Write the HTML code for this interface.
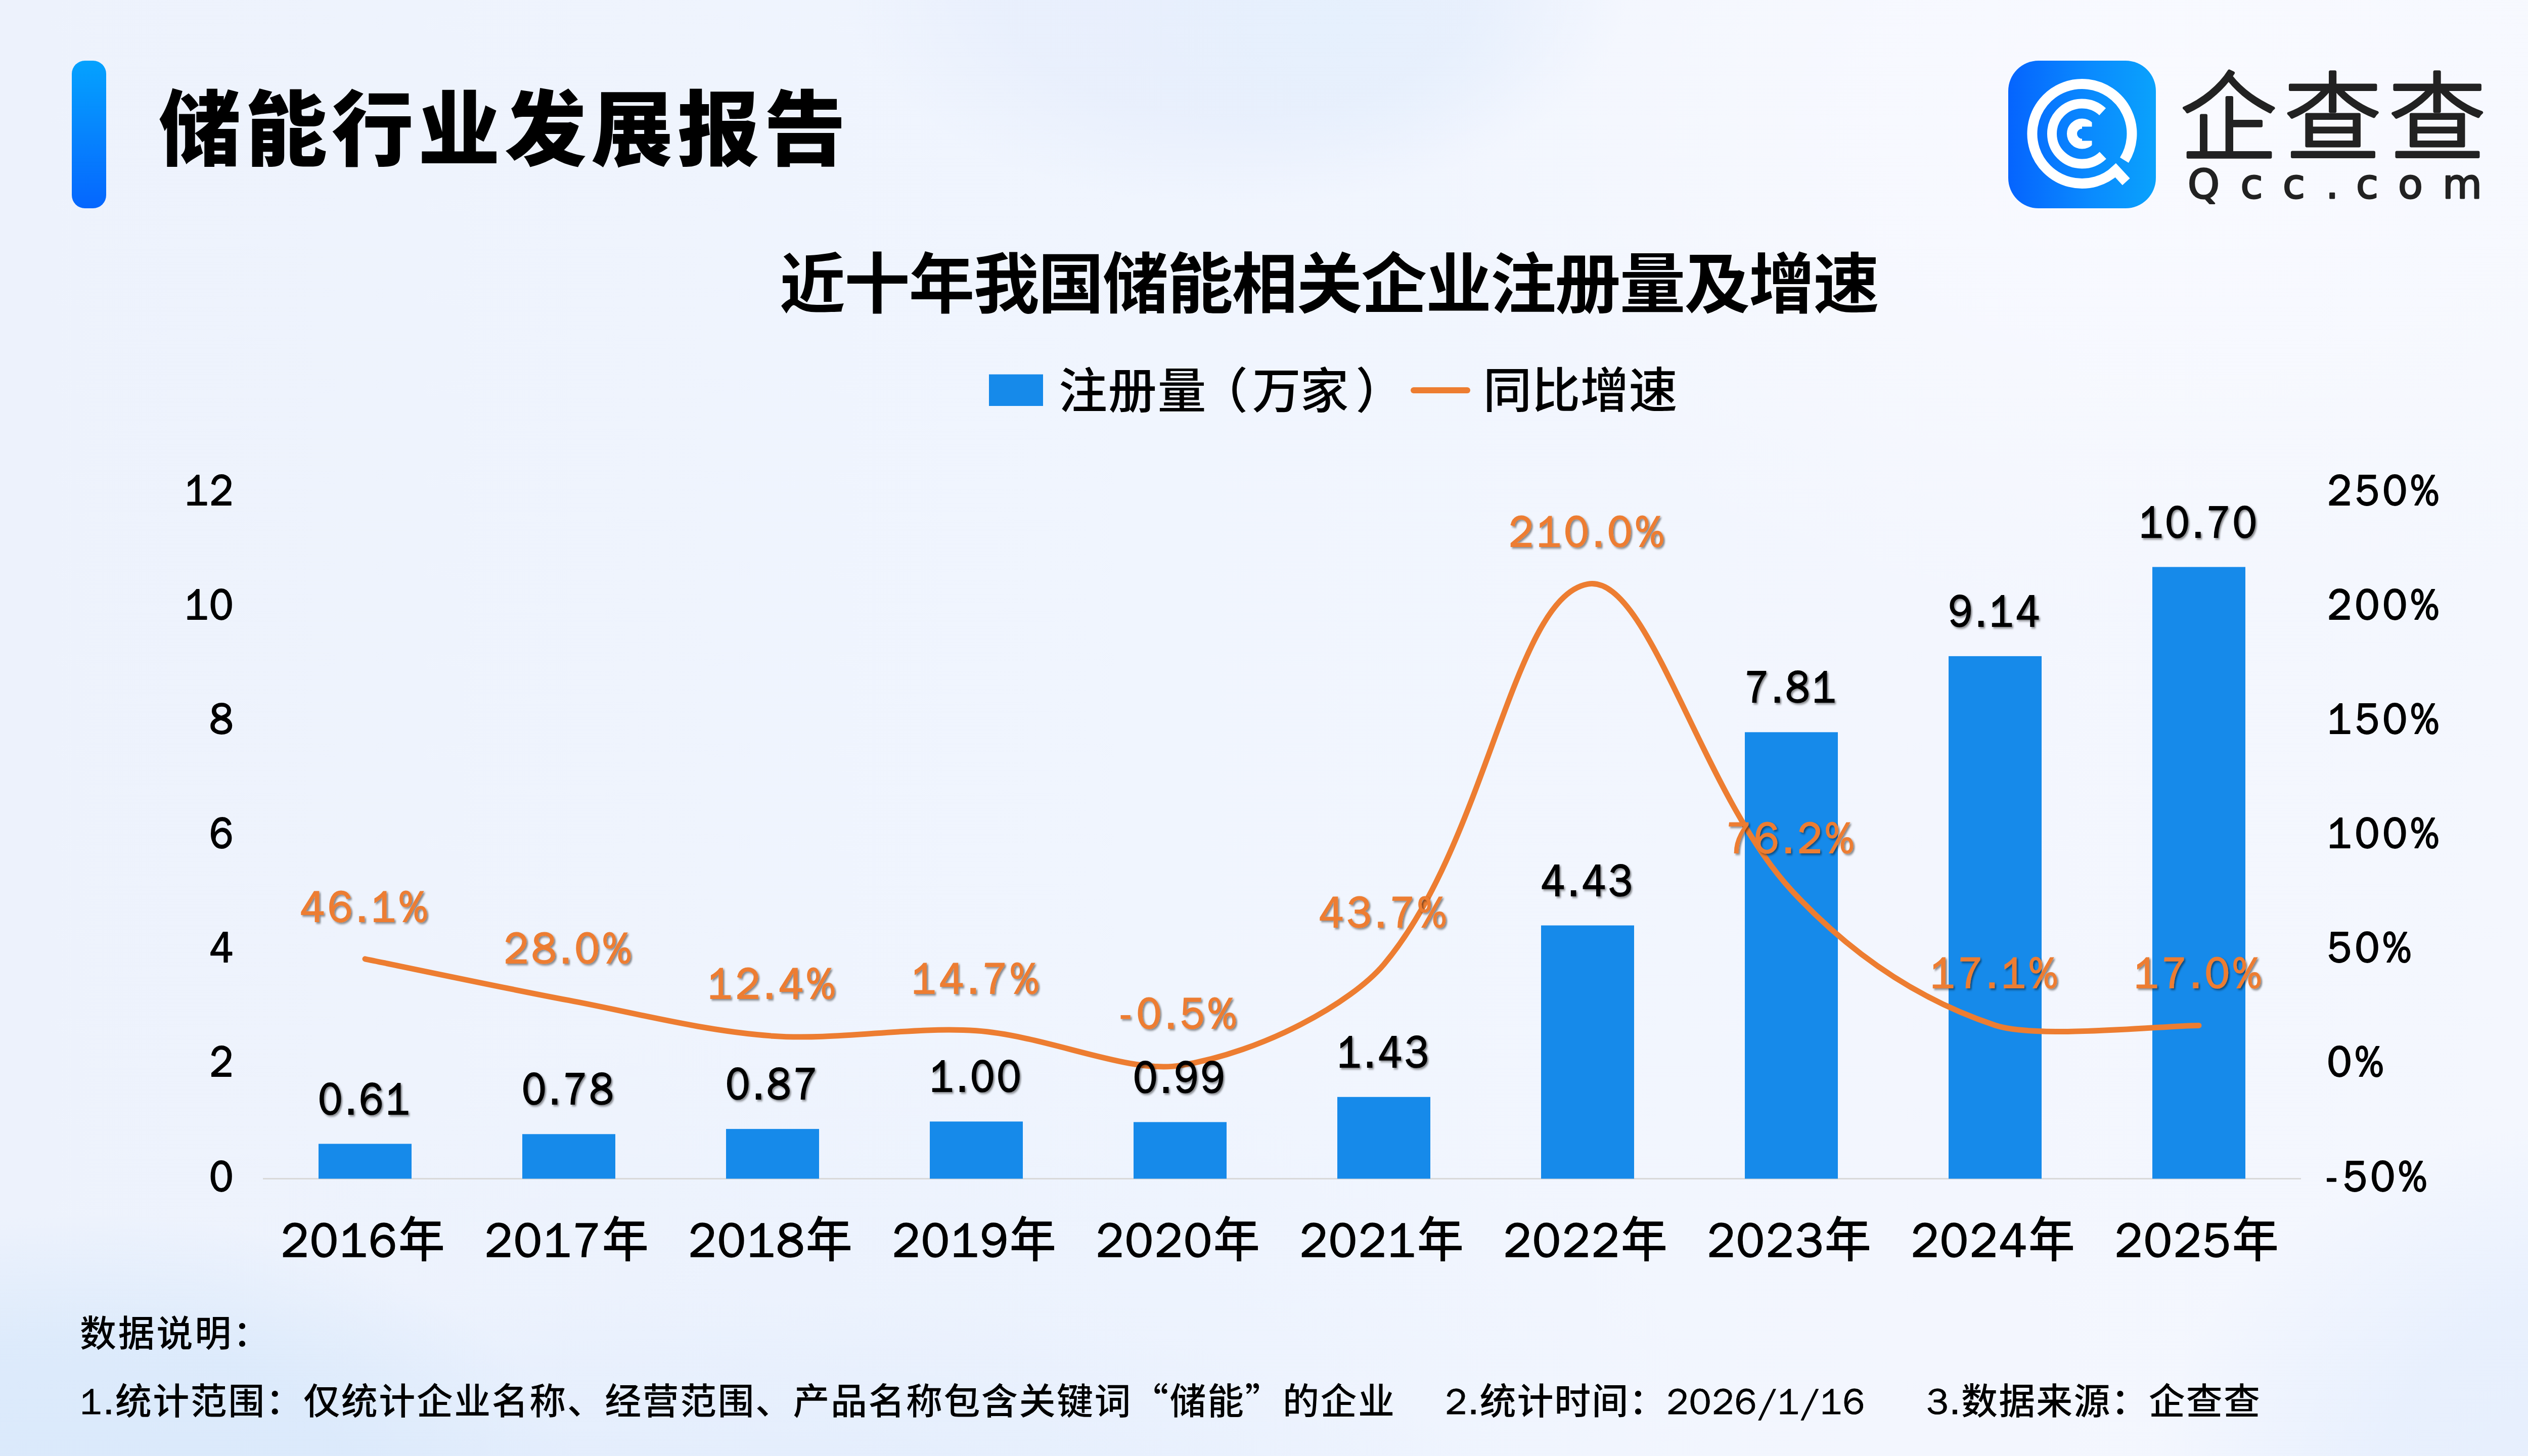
<!DOCTYPE html>
<html><head><meta charset="utf-8">
<style>
*{margin:0;padding:0;box-sizing:border-box}
html,body{width:5120px;height:2880px;overflow:hidden}
body{position:relative;font-family:"Liberation Sans","Noto Sans CJK SC",sans-serif;background:#eff3fc;}
.bg{position:absolute;left:0;top:0;width:5120px;height:2880px;
background:
 radial-gradient(ellipse 450px 280px at 2640px 50px, rgba(228,240,253,0.7), rgba(228,240,253,0) 100%),
 radial-gradient(ellipse 780px 440px at 2440px -30px, rgba(231,238,252,0.9) 0%, rgba(231,238,252,0.8) 60%, rgba(231,238,252,0) 100%),
 radial-gradient(ellipse 1500px 1000px at 4300px 250px, rgba(249,250,255,1), rgba(249,250,255,0) 100%),
 radial-gradient(ellipse 1000px 750px at 5250px 2950px, rgba(229,238,253,1) 0%, rgba(229,238,253,0.8) 55%, rgba(229,238,253,0) 100%),
 radial-gradient(ellipse 1000px 560px at 150px 2960px, rgba(218,233,251,1) 0%, rgba(218,233,251,0.85) 55%, rgba(218,233,251,0) 100%),
 radial-gradient(ellipse 1900px 420px at 1100px 2980px, rgba(223,235,252,0.8), rgba(223,235,252,0) 100%),
 radial-gradient(ellipse 1600px 900px at 1800px 2900px, rgba(228,237,252,0.5), rgba(228,237,252,0) 100%),
 linear-gradient(90deg,#edf2fc 0%,#f0f5fe 45%,#f3f6fe 75%,#f4f7fe 100%);}
.bar{position:absolute;left:142px;top:120px;width:68px;height:292px;border-radius:26px;
background:linear-gradient(180deg,#04a2fe 0%,#0687fd 45%,#0566fe 100%);}
svg{position:absolute;left:0;top:0}
svg text{font-family:"Noto Sans CJK SC",sans-serif;white-space:pre}
.ax,.vl,.pl,.d{font-family:"WenQuanYi Zen Hei","Liberation Sans",sans-serif;font-weight:400}
.ax{fill:#000;stroke:#000;stroke-width:2.2px;stroke-linejoin:round}
.yr{fill:#000;font-weight:500}
.vl{fill:#000;stroke:#000;stroke-width:2px;filter:url(#sh)}
.pl{fill:#ed7d31;stroke:#ed7d31;stroke-width:2px;filter:url(#sh)}
.lg{font-family:"Noto Sans CJK SC",sans-serif !important;font-size:96px;fill:#000;font-weight:500}
.nt{font-size:72px;fill:#000;font-weight:500}
.yr .d{stroke:#000;stroke-width:1.6px}
.nt .d{stroke:#000;stroke-width:0.8px}
.cj{font-family:"Noto Sans CJK SC",sans-serif}
.tt{font-family:"Noto Sans CJK SC",sans-serif !important;font-weight:900;fill:#000}
.ct{font-family:"Noto Sans CJK SC",sans-serif !important;font-weight:700;fill:#000}
.lq{font-family:"Noto Sans CJK SC",sans-serif !important;fill:#222;font-weight:300;stroke:#222;stroke-width:6px;stroke-linejoin:round;stroke-linecap:round}
.lc{font-family:"DejaVu Sans",sans-serif !important;fill:#222;stroke:#222;stroke-linejoin:round;font-weight:400}
</style></head><body>
<div class="bg"></div>
<div class="bar"></div>
<svg width="5120" height="2880" viewBox="0 0 5120 2880">
<defs><filter id="sh" x="-10%" y="-20%" width="130%" height="150%"><feDropShadow dx="3" dy="3" stdDeviation="2" flood-color="#000" flood-opacity="0.45"/></filter></defs>
<line x1="520" y1="2331.5" x2="4551" y2="2331.5" stroke="#d9d9d9" stroke-width="3"/>
<rect x="630.0" y="2262.5" width="184" height="69.0" fill="#168aea"/>
<rect x="1033.0" y="2243.3" width="184" height="88.2" fill="#168aea"/>
<rect x="1436.0" y="2233.1" width="184" height="98.4" fill="#168aea"/>
<rect x="1839.0" y="2218.4" width="184" height="113.1" fill="#168aea"/>
<rect x="2242.0" y="2219.5" width="184" height="112.0" fill="#168aea"/>
<rect x="2645.0" y="2169.8" width="184" height="161.7" fill="#168aea"/>
<rect x="3048.0" y="1830.5" width="184" height="501.0" fill="#168aea"/>
<rect x="3451.0" y="1448.3" width="184" height="883.2" fill="#168aea"/>
<rect x="3854.0" y="1297.9" width="184" height="1033.6" fill="#168aea"/>
<rect x="4257.0" y="1121.5" width="184" height="1210.0" fill="#168aea"/>
<path d="M722.0,1896.8 C789.2,1910.5 988.3,1952.8 1125.0,1978.7 C1256.9,2003.6 1385.8,2038.6 1528.0,2049.2 C1654.5,2058.7 1804.1,2029.7 1931.0,2038.8 C2072.8,2049.1 2230.2,2124.5 2334.0,2107.6 C2498.9,2080.8 2672.5,1983.9 2737.0,1907.7 C2941.1,1666.5 2991.7,1182.5 3140.0,1155.4 C3260.4,1133.5 3361.9,1564.6 3543.0,1760.7 C3630.5,1855.4 3761.0,1966.5 3946.0,2028.0 C4029.7,2055.8 4281.8,2028.4 4349.0,2028.4" fill="none" stroke="#ed7d31" stroke-width="11" stroke-linecap="round" stroke-linejoin="round"/>
<text transform="translate(463.7,2355.5) scale(0.900,1)" class="ax" text-anchor="end" style="font-size:86.0px;letter-spacing:3.00px">0</text>
<text transform="translate(463.7,2129.3) scale(0.900,1)" class="ax" text-anchor="end" style="font-size:86.0px;letter-spacing:3.00px">2</text>
<text transform="translate(463.7,1903.2) scale(0.900,1)" class="ax" text-anchor="end" style="font-size:86.0px;letter-spacing:3.00px">4</text>
<text transform="translate(463.7,1677.0) scale(0.900,1)" class="ax" text-anchor="end" style="font-size:86.0px;letter-spacing:3.00px">6</text>
<text transform="translate(463.7,1450.8) scale(0.900,1)" class="ax" text-anchor="end" style="font-size:86.0px;letter-spacing:3.00px">8</text>
<text transform="translate(463.7,1224.7) scale(0.900,1)" class="ax" text-anchor="end" style="font-size:86.0px;letter-spacing:3.00px">10</text>
<text transform="translate(463.7,998.5) scale(0.900,1)" class="ax" text-anchor="end" style="font-size:86.0px;letter-spacing:3.00px">12</text>
<text transform="translate(4603.0,2355.5) scale(0.930,1)" class="ax" text-anchor="start" style="font-size:86.0px;letter-spacing:7.50px">-50%</text>
<text transform="translate(4603.0,2129.3) scale(0.930,1)" class="ax" text-anchor="start" style="font-size:86.0px;letter-spacing:7.50px">0%</text>
<text transform="translate(4603.0,1903.2) scale(0.930,1)" class="ax" text-anchor="start" style="font-size:86.0px;letter-spacing:7.50px">50%</text>
<text transform="translate(4603.0,1677.0) scale(0.930,1)" class="ax" text-anchor="start" style="font-size:86.0px;letter-spacing:7.50px">100%</text>
<text transform="translate(4603.0,1450.8) scale(0.930,1)" class="ax" text-anchor="start" style="font-size:86.0px;letter-spacing:7.50px">150%</text>
<text transform="translate(4603.0,1224.7) scale(0.930,1)" class="ax" text-anchor="start" style="font-size:86.0px;letter-spacing:7.50px">200%</text>
<text transform="translate(4603.0,998.5) scale(0.930,1)" class="ax" text-anchor="start" style="font-size:86.0px;letter-spacing:7.50px">250%</text>
<text transform="translate(719.0,2486.0) scale(0.960,1)" class="yr" text-anchor="middle" style="font-size:96.0px;letter-spacing:3.00px"><tspan class="d">2016</tspan>年</text>
<text transform="translate(1122.0,2486.0) scale(0.960,1)" class="yr" text-anchor="middle" style="font-size:96.0px;letter-spacing:3.00px"><tspan class="d">2017</tspan>年</text>
<text transform="translate(1525.0,2486.0) scale(0.960,1)" class="yr" text-anchor="middle" style="font-size:96.0px;letter-spacing:3.00px"><tspan class="d">2018</tspan>年</text>
<text transform="translate(1928.0,2486.0) scale(0.960,1)" class="yr" text-anchor="middle" style="font-size:96.0px;letter-spacing:3.00px"><tspan class="d">2019</tspan>年</text>
<text transform="translate(2331.0,2486.0) scale(0.960,1)" class="yr" text-anchor="middle" style="font-size:96.0px;letter-spacing:3.00px"><tspan class="d">2020</tspan>年</text>
<text transform="translate(2734.0,2486.0) scale(0.960,1)" class="yr" text-anchor="middle" style="font-size:96.0px;letter-spacing:3.00px"><tspan class="d">2021</tspan>年</text>
<text transform="translate(3137.0,2486.0) scale(0.960,1)" class="yr" text-anchor="middle" style="font-size:96.0px;letter-spacing:3.00px"><tspan class="d">2022</tspan>年</text>
<text transform="translate(3540.0,2486.0) scale(0.960,1)" class="yr" text-anchor="middle" style="font-size:96.0px;letter-spacing:3.00px"><tspan class="d">2023</tspan>年</text>
<text transform="translate(3943.0,2486.0) scale(0.960,1)" class="yr" text-anchor="middle" style="font-size:96.0px;letter-spacing:3.00px"><tspan class="d">2024</tspan>年</text>
<text transform="translate(4346.0,2486.0) scale(0.960,1)" class="yr" text-anchor="middle" style="font-size:96.0px;letter-spacing:3.00px"><tspan class="d">2025</tspan>年</text>
<text transform="translate(722.6,2203.5) scale(0.880,1)" class="vl" text-anchor="middle" style="font-size:89.0px;letter-spacing:6.00px">0.61</text>
<text transform="translate(1125.6,2184.3) scale(0.880,1)" class="vl" text-anchor="middle" style="font-size:89.0px;letter-spacing:6.00px">0.78</text>
<text transform="translate(1528.6,2174.1) scale(0.880,1)" class="vl" text-anchor="middle" style="font-size:89.0px;letter-spacing:6.00px">0.87</text>
<text transform="translate(1931.6,2159.4) scale(0.880,1)" class="vl" text-anchor="middle" style="font-size:89.0px;letter-spacing:6.00px">1.00</text>
<text transform="translate(2334.6,2160.5) scale(0.880,1)" class="vl" text-anchor="middle" style="font-size:89.0px;letter-spacing:6.00px">0.99</text>
<text transform="translate(2737.6,2110.8) scale(0.880,1)" class="vl" text-anchor="middle" style="font-size:89.0px;letter-spacing:6.00px">1.43</text>
<text transform="translate(3140.6,1771.5) scale(0.880,1)" class="vl" text-anchor="middle" style="font-size:89.0px;letter-spacing:6.00px">4.43</text>
<text transform="translate(3543.6,1389.3) scale(0.880,1)" class="vl" text-anchor="middle" style="font-size:89.0px;letter-spacing:6.00px">7.81</text>
<text transform="translate(3946.6,1238.9) scale(0.880,1)" class="vl" text-anchor="middle" style="font-size:89.0px;letter-spacing:6.00px">9.14</text>
<text transform="translate(4349.6,1062.5) scale(0.880,1)" class="vl" text-anchor="middle" style="font-size:89.0px;letter-spacing:6.00px">10.70</text>
<text transform="translate(722.7,1822.8) scale(0.930,1)" class="pl" text-anchor="middle" style="font-size:87.0px;letter-spacing:6.90px">46.1%</text>
<text transform="translate(1125.7,1904.7) scale(0.930,1)" class="pl" text-anchor="middle" style="font-size:87.0px;letter-spacing:6.90px">28.0%</text>
<text transform="translate(1528.7,1975.2) scale(0.930,1)" class="pl" text-anchor="middle" style="font-size:87.0px;letter-spacing:6.90px">12.4%</text>
<text transform="translate(1931.7,1964.8) scale(0.930,1)" class="pl" text-anchor="middle" style="font-size:87.0px;letter-spacing:6.90px">14.7%</text>
<text transform="translate(2334.7,2033.6) scale(0.930,1)" class="pl" text-anchor="middle" style="font-size:87.0px;letter-spacing:6.90px">-0.5%</text>
<text transform="translate(2737.7,1833.7) scale(0.930,1)" class="pl" text-anchor="middle" style="font-size:87.0px;letter-spacing:6.90px">43.7%</text>
<text transform="translate(3140.7,1081.4) scale(0.930,1)" class="pl" text-anchor="middle" style="font-size:87.0px;letter-spacing:6.90px">210.0%</text>
<text transform="translate(3543.7,1686.7) scale(0.930,1)" class="pl" text-anchor="middle" style="font-size:87.0px;letter-spacing:6.90px">76.2%</text>
<text transform="translate(3946.7,1954.0) scale(0.930,1)" class="pl" text-anchor="middle" style="font-size:87.0px;letter-spacing:6.90px">17.1%</text>
<text transform="translate(4349.7,1954.4) scale(0.930,1)" class="pl" text-anchor="middle" style="font-size:87.0px;letter-spacing:6.90px">17.0%</text>
<rect x="1956" y="740.5" width="107" height="62.5" fill="#168aea"/>
<text x="2094.0" y="807.0" class="lg" style="letter-spacing:1.70px">注册量<tspan dx="-15">（</tspan><tspan dx="7">万</tspan><tspan dx="-3">家</tspan><tspan dx="12">）</tspan></text>
<line x1="2796" y1="772" x2="2902" y2="772" stroke="#ed7d31" stroke-width="12" stroke-linecap="round"/>
<text x="2933.5" y="806.0" class="lg" style="letter-spacing:0.00px">同比增速</text>
<text x="158.0" y="2663.0" class="nt" textLength="375.0" lengthAdjust="spacing">数据说明：</text>
<text x="158.0" y="2797.0" class="nt" textLength="2600.0" lengthAdjust="spacing"><tspan class="d">1.</tspan>统计范围：仅统计企业名称、经营范围、产品名称包含关键词<tspan class="cj">“</tspan>储能<tspan class="cj">”</tspan>的企业</text>
<text x="2858.0" y="2797.0" class="nt" textLength="830.0" lengthAdjust="spacing"><tspan class="d">2.</tspan>统计时间：<tspan class="d">2026/1/16</tspan></text>
<text x="3810.0" y="2797.0" class="nt" textLength="660.0" lengthAdjust="spacing"><tspan class="d">3.</tspan>数据来源：企查查</text>
<text x="314.0" y="315.0" class="tt" style="font-size:162.0px;letter-spacing:9.00px">储能行业发展报告</text>
<text x="1542.0" y="608.0" class="ct" style="font-size:130.0px;letter-spacing:-2.20px">近十年我国储能相关企业注册量及增速</text>
<defs><linearGradient id="lg1" x1="0" y1="0" x2="1" y2="0"><stop offset="0" stop-color="#0564fe"/><stop offset="0.55" stop-color="#0a8afe"/><stop offset="1" stop-color="#0aa2fc"/></linearGradient></defs>
<rect x="3972" y="120" width="292" height="292" rx="60" fill="url(#lg1)"/>
<path d="M4185.2,336.5 A98.5,98.5 0 1 1 4201.5,316.7" fill="none" stroke="#fff" stroke-width="20"/>
<line x1="4177.5" y1="329.4" x2="4205.2" y2="359.6" stroke="#fff" stroke-width="20"/>
<path d="M4159.3,307.3 A59.5,59.5 0 1 1 4158.6,221.0" fill="none" stroke="#fff" stroke-width="19"/>
<mask id="mc" maskUnits="userSpaceOnUse" x="3972" y="120" width="292" height="292"><rect x="3972" y="120" width="292" height="292" fill="#fff"/><rect x="4118.0" y="250.5" width="40" height="28" fill="#000"/><rect x="4137.5" y="224.5" width="40" height="80" fill="#000"/></mask>
<circle cx="4118.0" cy="264.5" r="20" fill="none" stroke="#fff" stroke-width="20" mask="url(#mc)"/>
<text x="4312.0" y="301.5" class="lq" style="font-size:191.0px;letter-spacing:15.50px">企查查</text>
<text class="lc" y="392.0" style="font-size:80.0px;stroke-width:2.80px"><tspan x="4327.0">Q</tspan><tspan x="4431.6">c</tspan><tspan x="4515.0">c</tspan><tspan x="4600.0">.</tspan><tspan x="4660.0">c</tspan><tspan x="4743.0">o</tspan><tspan x="4831.0">m</tspan></text>
</svg>
</body></html>
